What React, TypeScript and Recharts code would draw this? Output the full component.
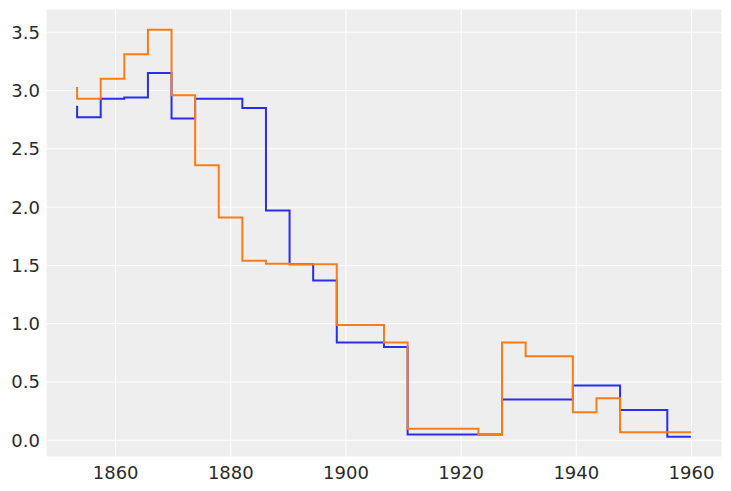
import { LineChart, Line, XAxis, YAxis, CartesianGrid } from "recharts";

// bin edges (years)
const years = [
  1853.3, 1857.4, 1861.5, 1865.6, 1869.7, 1873.8, 1877.9, 1882.0, 1886.1,
  1890.2, 1894.3, 1898.4, 1902.5, 1906.6, 1910.7, 1914.8, 1918.9, 1923.0,
  1927.1, 1931.2, 1935.3, 1939.4, 1943.5, 1947.6, 1951.7, 1955.8, 1959.9,
];

// step "pre": value at each edge is the level of the bin ending there
const blue = [
  2.87, 2.77, 2.93, 2.94, 3.15, 2.76, 2.93, 2.93, 2.85, 1.97, 1.51, 1.37, 0.84,
  0.84, 0.8, 0.05, 0.05, 0.05, 0.05, 0.35, 0.35, 0.35, 0.47, 0.47, 0.26, 0.26,
  0.03,
];

const orange = [
  3.03, 2.93, 3.1, 3.31, 3.52, 2.96, 2.36, 1.91, 1.54, 1.515, 1.51, 1.51, 0.99,
  0.99, 0.84, 0.1, 0.1, 0.1, 0.05, 0.84, 0.72, 0.72, 0.24, 0.36, 0.07, 0.07,
  0.07,
];

const xTicks = [1860, 1880, 1900, 1920, 1940, 1960];
const yTicks = [0, 0.5, 1, 1.5, 2, 2.5, 3, 3.5];

const data = years.map((year, i) => ({
  year,
  blue: blue[i],
  orange: orange[i],
}));

const tickStyle = { fill: "#2b2b2b", fontSize: 18, fontFamily: "DejaVu Sans" };

const App = () => {
  return (
    <div
      style={{
        position: "absolute",
        left: 0,
        top: 0,
        width: 731,
        height: 491,
        background: "#ffffff",
        fontFamily: "DejaVu Sans",
      }}
    >
      <LineChart
        width={731}
        height={491}
        data={data}
        margin={{ top: 9, right: 9, left: 0, bottom: 0 }}
      >
        <CartesianGrid fill="#eeeeee" stroke="#ffffff" strokeWidth={1} />
        <XAxis
          dataKey="year"
          type="number"
          domain={[1847.9, 1965.3]}
          ticks={xTicks}
          allowDataOverflow
          axisLine={false}
          tickLine={false}
          tickMargin={3}
          height={34}
          tick={tickStyle}
        />
        <YAxis
          type="number"
          domain={[-0.143, 3.699]}
          ticks={yTicks}
          allowDataOverflow
          axisLine={false}
          tickLine={false}
          tickMargin={0}
          width={46}
          tick={tickStyle}
          tickFormatter={(v: number) => v.toFixed(1)}
        />
        <Line
          type="stepBefore"
          dataKey="blue"
          stroke="#2a2eec"
          strokeWidth={2}
          dot={false}
          activeDot={false}
          isAnimationActive={false}
        />
        <Line
          type="stepBefore"
          dataKey="orange"
          stroke="#fa7c17"
          strokeWidth={2}
          dot={false}
          activeDot={false}
          isAnimationActive={false}
        />
      </LineChart>
    </div>
  );
};

export default App;
